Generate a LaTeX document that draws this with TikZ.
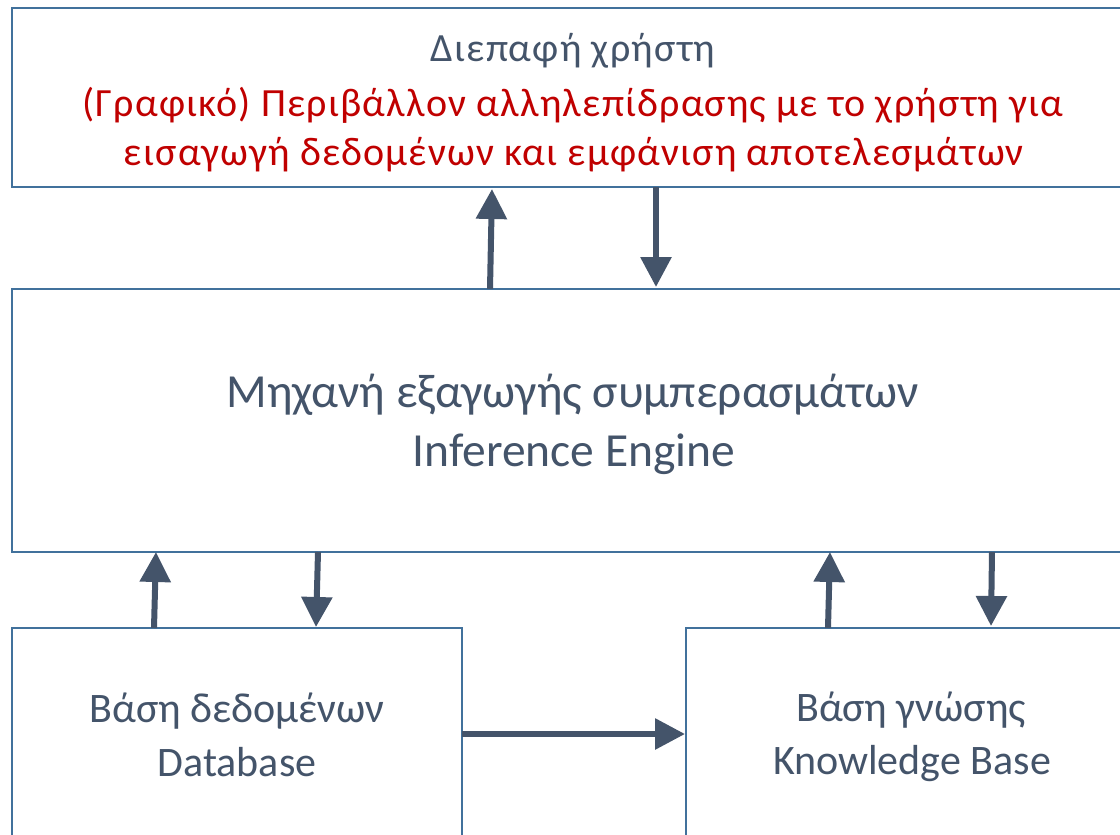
\documentclass[tikz,border=0pt]{standalone}
\usepackage{fontspec}
\setmainfont{Carlito}
\usetikzlibrary{arrows.meta}
\definecolor{boxline}{HTML}{41719C}
\definecolor{slate}{HTML}{44546A}
\definecolor{darkred}{HTML}{C00000}
\tikzset{
  panel/.style={draw=boxline, line width=2pt, fill=white, inner sep=0pt, outer sep=0pt, anchor=north west},
  flow/.style={draw=slate, line width=6pt, -{Triangle[width=30pt,length=30pt]}},
  lbl/.style={text=slate, anchor=base, inner sep=0pt},
  toptext/.style={anchor=base, inner sep=0pt, font=\fontsize{40}{46}\selectfont\addfontfeature{LetterSpace=3}},
  note/.style={toptext, text=darkred},
  bigtext/.style={lbl, font=\fontsize{47.5}{56}\selectfont},
  boxtext/.style={lbl, font=\fontsize{42}{50}\selectfont},
}
\begin{document}
\begin{tikzpicture}[x=1pt,y=-1pt]
\useasboundingbox[fill=white] (0,0) rectangle (1120,835);

% boxes
\node[panel, minimum width=1120pt, minimum height=179pt] (ui) at (12,8) {};
\node[panel, minimum width=1120pt, minimum height=263pt] (engine) at (12,289) {};
\node[panel, minimum width=450pt, minimum height=220pt] (db) at (12,628) {};
\node[panel, minimum width=450pt, minimum height=220pt] (kb) at (686,628) {};

% user interface texts
\node[toptext, text=slate] (uititle) at (573,61) {Διεπαφή χρήστη};
\node[note] (uinote1) at (573,116) {(Γραφικό) Περιβάλλον αλληλεπίδρασης με το χρήστη για};
\node[note] (uinote2) at (574,165) {εισαγωγή δεδομένων και εμφάνιση αποτελεσμάτων};

% inference engine texts
\node[bigtext] (engine1) at (573,407) {Μηχανή εξαγωγής συμπερασμάτων};
\node[bigtext] (engine2) at (574,466) {Inference Engine};

% database texts
\node[boxtext] (db1) at (237,722) {Βάση δεδομένων};
\node[boxtext] (db2) at (237,776) {Database};

% knowledge base texts
\node[boxtext] (kb1) at (911,721) {Βάση γνώσης};
\node[boxtext] (kb2) at (912,774) {Knowledge Base};

% connectors
\draw[flow] ([xshift=478pt]engine.north west) -- ([xshift=480pt,yshift=-2pt]ui.south west);
\draw[flow] ([xshift=644pt]ui.south west) -- ([xshift=644pt,yshift=2pt]engine.north west);
\draw[flow] ([xshift=142pt]db.north west) -- ([xshift=144pt]engine.south west);
\draw[flow] ([xshift=306pt]engine.south west) -- ([xshift=304pt,yshift=1pt]db.north west);
\draw[flow] ([xshift=142pt]kb.north west) -- ([xshift=818pt]engine.south west);
\draw[flow] ([xshift=980pt]engine.south west) -- ([xshift=305pt,yshift=2pt]kb.north west);
\draw[flow] ([yshift=-106pt]db.north east) -- ([yshift=-106pt,xshift=-1pt]kb.north west);
\end{tikzpicture}
\end{document}
